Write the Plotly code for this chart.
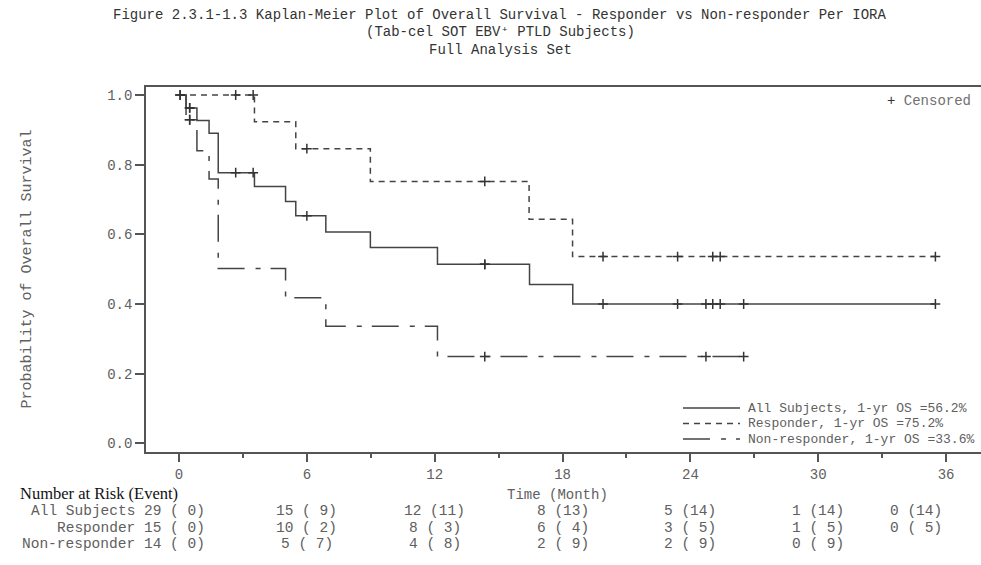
import plotly.graph_objects as go

# Kaplan-Meier step estimates: event times (months) and survival probability after each step
all_times = [0, 0.33, 0.84, 1.41, 1.84, 3.54, 5.00, 5.48, 6.89, 8.98, 12.13, 16.45, 18.48, 35.5]
all_surv = [1.0, 0.963, 0.927, 0.890, 0.777, 0.737, 0.694, 0.653, 0.607, 0.562, 0.514, 0.456, 0.400, 0.400]
all_cens = [0.05, 0.5, 0.5, 2.66, 3.48, 6.0, 14.35, 14.35, 19.9, 23.4, 24.73, 25.05, 25.4, 26.5, 35.5]

resp_times = [0, 3.54, 5.48, 8.98, 16.43, 18.47, 35.5]
resp_surv = [1.0, 0.923, 0.846, 0.752, 0.643, 0.536, 0.536]
resp_cens = [0.05, 2.66, 3.48, 6.0, 14.35, 19.9, 23.4, 25.05, 25.4, 35.5]

nonr_times = [0, 0.33, 0.84, 1.41, 1.84, 5.00, 6.89, 12.13, 26.5]
nonr_surv = [1.0, 0.929, 0.840, 0.759, 0.502, 0.418, 0.336, 0.249, 0.249]
nonr_cens = [0.5, 0.5, 14.35, 24.73, 26.5]

# Number at risk (cumulative events) table
risk_times = [0, 6, 12, 18, 24, 30, 36]
all_risk = [29, 15, 12, 8, 5, 1, 0]
all_events = [0, 9, 11, 13, 14, 14, 14]
resp_risk = [15, 10, 8, 6, 3, 1, 0]
resp_events = [0, 2, 3, 4, 5, 5, 5]
nonr_risk = [14, 5, 4, 2, 2, 0]
nonr_events = [0, 7, 8, 9, 9, 9]

group_names = ["All Subjects", "Responder", "Non-responder"]

MONO = "Liberation Mono, Courier New, monospace"
SERIF = "Liberation Serif, Times New Roman, serif"
LINE = "#444444"
AXIS = "#555555"
TEXT = "#606060"

# plot-area pixel geometry (used for paper-coordinate text placement)
W, H = 981, 565
L, R, T, B = 146, 0, 87, 113
PW, PH = W - L - R, H - T - B


def px_x(px):
    return (px - L) / PW


def px_y(py):
    return (H - B - py) / PH


def surv_at(times, surv, t):
    val = surv[0]
    for ti, si in zip(times, surv):
        if ti <= t:
            val = si
    return val


groups = [
    (group_names[0], all_times, all_surv, all_cens, dict(color=LINE, width=1.5, dash="solid")),
    (group_names[1], resp_times, resp_surv, resp_cens, dict(color=LINE, width=1.5, dash="6px,5px")),
    (group_names[2], nonr_times, nonr_surv, nonr_cens, dict(color=LINE, width=1.5, dash="27px,11px,5px,10px")),
]

fig = go.Figure()
for name, times, surv, cens, line in groups:
    fig.add_trace(go.Scatter(
        x=times, y=surv, mode="lines", line=dict(shape="hv", **line),
        name=name, showlegend=False, hoverinfo="skip",
    ))
for name, times, surv, cens, line in groups:
    fig.add_trace(go.Scatter(
        x=cens, y=[surv_at(times, surv, c) for c in cens], mode="markers",
        marker=dict(symbol="cross-thin", size=7, line=dict(width=1.5, color="#333333")),
        showlegend=False, hoverinfo="skip",
    ))

annotations = []
shapes = []

titles = [
    "Figure 2.3.1-1.3 Kaplan-Meier Plot of Overall Survival - Responder vs Non-responder Per IORA",
    "(Tab-cel SOT EBV\u207a PTLD Subjects)",
    "Full Analysis Set",
]
for text, py in zip(titles, [14.5, 32, 49.5]):
    annotations.append(dict(text=text, x=px_x(500), y=px_y(py), xref="paper", yref="paper",
                            xanchor="center", yanchor="middle", showarrow=False,
                            font=dict(family=MONO, size=14, color="#333333")))

annotations.append(dict(text="<span style='color:#333'>+</span> Censored", x=px_x(973), y=px_y(101),
                        xref="paper", yref="paper", xanchor="right", yanchor="middle",
                        showarrow=False, font=dict(family=MONO, size=14, color="#707070")))
annotations.append(dict(text="Probability of Overall Survival", x=px_x(27), y=0.5, textangle=-90,
                        xref="paper", yref="paper", xanchor="center", yanchor="middle",
                        showarrow=False, font=dict(family=MONO, size=15, color=TEXT)))
annotations.append(dict(text="Time (Month)", x=px_x(557), y=px_y(495), xref="paper", yref="paper",
                        xanchor="center", yanchor="middle", showarrow=False,
                        font=dict(family=MONO, size=14, color=TEXT)))
annotations.append(dict(text="Number at Risk (Event)", x=px_x(18), y=px_y(493), xref="paper", yref="paper",
                        xanchor="left", yanchor="middle", showarrow=False,
                        font=dict(family=SERIF, size=16.5, color="#111111")))

# legend: line sample plus label with the 12-month survival estimate
legend_y = [408, 423.5, 439]
for (name, times, surv, cens, line), py in zip(groups, legend_y):
    os12 = surv_at(times, surv, 12) * 100
    shapes.append(dict(type="line", xref="paper", yref="paper",
                       x0=px_x(683), x1=px_x(740), y0=px_y(py), y1=px_y(py),
                       line=dict(color=LINE, width=1.5, dash=line["dash"])))
    annotations.append(dict(text=f"{name}, 1-yr OS ={os12:.1f}%", x=px_x(746), y=px_y(py),
                            xref="paper", yref="paper", xanchor="left", yanchor="middle",
                            showarrow=False, font=dict(family=MONO, size=13, color=TEXT)))

rows = [(all_risk, all_events), (resp_risk, resp_events), (nonr_risk, nonr_events)]
row_y = [511, 527.5, 544]
for name, (risk, events), py in zip(group_names, rows, row_y):
    annotations.append(dict(text=name, x=px_x(137), y=px_y(py), xref="paper", yref="paper",
                            xanchor="right", yanchor="middle", showarrow=False,
                            font=dict(family=MONO, size=14.5, color=TEXT)))
    for t, n, e in zip(risk_times, risk, events):
        label = f"{n} ({e:2d})".replace("( ", "(\u00a0")
        if t == risk_times[0]:
            anchor, shift = "center", -5
        elif t == risk_times[-1]:
            anchor, shift = "right", -2
        else:
            anchor, shift = "center", 0
        annotations.append(dict(text=label, x=t, y=px_y(py), xref="x", yref="paper",
                                xanchor=anchor, xshift=shift, yanchor="middle", showarrow=False,
                                font=dict(family=MONO, size=14.5, color=TEXT)))

fig.update_layout(
    width=W, height=H,
    margin=dict(l=L, r=R, t=T, b=B, pad=0),
    paper_bgcolor="white", plot_bgcolor="white",
    annotations=annotations, shapes=shapes,
    showlegend=False,
    xaxis=dict(range=[-1.55, 37.64], tickmode="linear", tick0=0, dtick=6,
               ticks="outside", ticklen=8, tickwidth=1.5, tickcolor=AXIS,
               showline=True, linecolor=AXIS, linewidth=1.5, mirror=True,
               showgrid=False, zeroline=False,
               minor=dict(tick0=0, dtick=3, ticks="outside", ticklen=4, tickwidth=1.5,
                          tickcolor=AXIS, showgrid=False),
               tickfont=dict(family=MONO, size=14, color=TEXT)),
    yaxis=dict(range=[-0.025, 1.023], tickmode="linear", tick0=0, dtick=0.2, tickformat=".1f",
               ticks="outside", ticklen=9, tickwidth=1.5, tickcolor=AXIS,
               showline=True, linecolor=AXIS, linewidth=1.5, mirror=False,
               showgrid=False, zeroline=False,
               tickfont=dict(family=MONO, size=14, color=TEXT)),
)

fig.write_html("out.html")
